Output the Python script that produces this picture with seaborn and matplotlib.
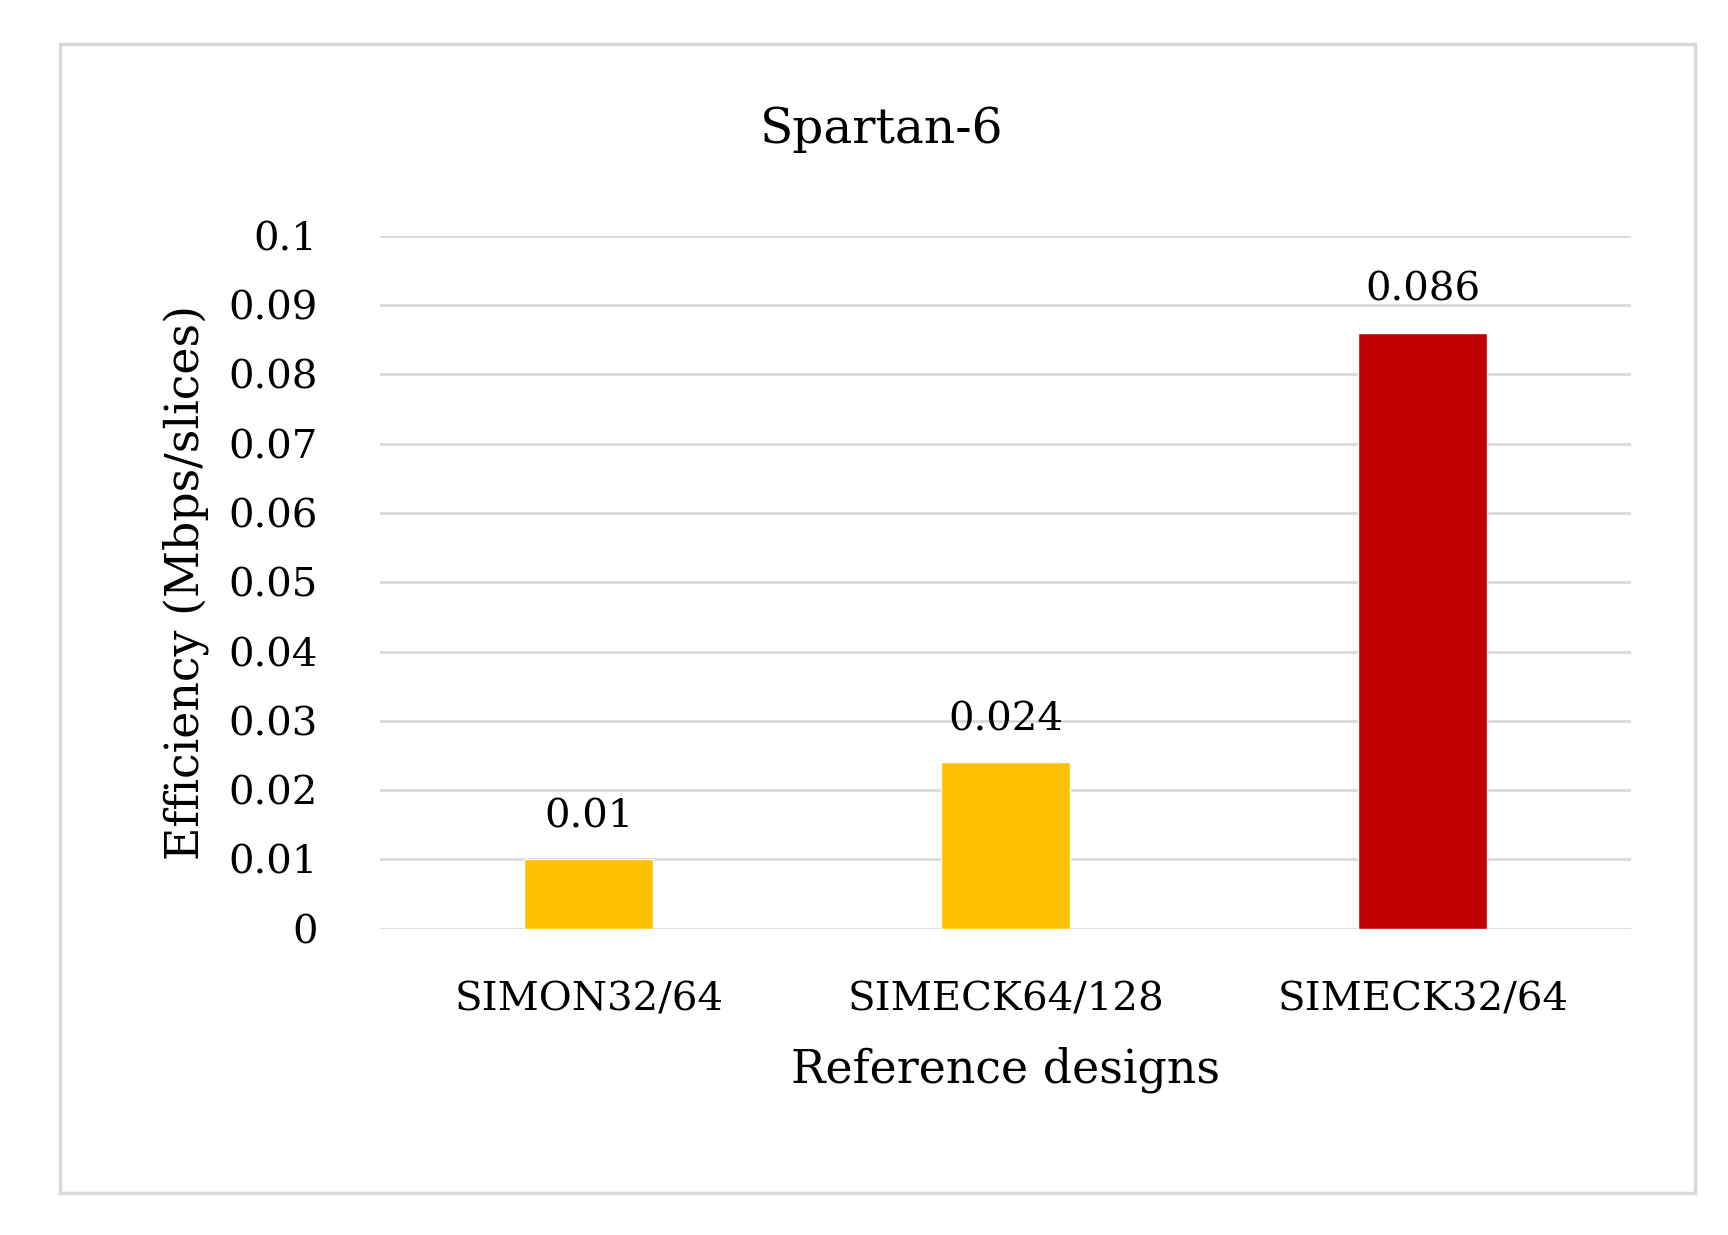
import matplotlib
matplotlib.use("Agg")
import matplotlib.pyplot as plt
import seaborn as sns
import pandas as pd
from matplotlib.patches import Rectangle

categories = ["SIMON32/64", "SIMECK64/128", "SIMECK32/64"]
values = [0.01, 0.024, 0.086]
labels = ["0.01", "0.024", "0.086"]
colors = ["#FFC000", "#FFC000", "#C00000"]
yticks = [0, 0.01, 0.02, 0.03, 0.04, 0.05, 0.06, 0.07, 0.08, 0.09, 0.1]
yticklabels = ["0", "0.01", "0.02", "0.03", "0.04", "0.05", "0.06", "0.07", "0.08", "0.09", "0.1"]

sns.set_theme(style="white")
plt.rcParams['font.family'] = ['DejaVu Serif']
plt.rcParams['text.color'] = 'black'
plt.rcParams['axes.labelcolor'] = 'black'
plt.rcParams['xtick.color'] = 'black'
plt.rcParams['ytick.color'] = 'black'

fig = plt.figure(figsize=(17.28, 12.35), dpi=100)
fig.patches.append(Rectangle((0.035, 0.034), 0.946, 0.93, transform=fig.transFigure,
                             fill=False, edgecolor="#D9D9D9", linewidth=2.5))
ax = fig.add_axes([0.22, 0.248, 0.724, 0.561])
df = pd.DataFrame({"cat": categories, "val": values})
sns.barplot(data=df, x="cat", y="val", hue="cat", palette=colors, legend=False,
            width=0.31, ax=ax, saturation=1)
ax.set_ylim(0, 0.1)
ax.set_xlim(-0.5, 2.5)
ax.set_yticks(yticks)
ax.set_yticklabels(yticklabels, fontsize=29)
ax.tick_params(axis='x', labelsize=29, pad=38, length=0)
ax.tick_params(axis='y', length=0, pad=45)
for t in ax.get_yticklabels():
    t.set_horizontalalignment('right')
ax.grid(axis='y', color="#D9D9D9", linewidth=2)
ax.set_axisbelow(True)
for s in ax.spines.values():
    s.set_visible(False)
for i, (v, l) in enumerate(zip(values, labels)):
    ax.text(i, v + 0.0035, l, ha='center', va='bottom', fontsize=29)
ax.set_xlabel("Reference designs", fontsize=33, labelpad=20)
ax.set_ylabel("Efficiency (Mbps/slices)", fontsize=33, labelpad=14)
fig.text(0.51, 0.895, "Spartan-6", ha='center', va='center', fontsize=35)
fig.savefig("out.png", dpi=100)
